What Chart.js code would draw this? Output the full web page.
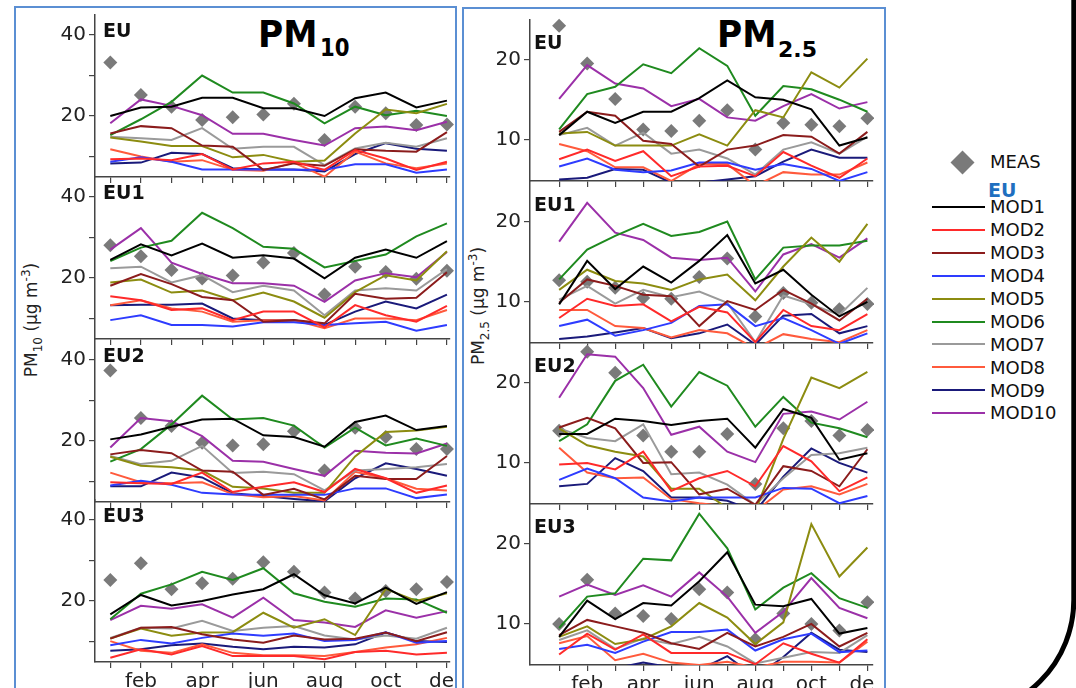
<!DOCTYPE html>
<html><head><meta charset="utf-8">
<script src="https://cdn.jsdelivr.net/npm/chart.js@4.4.1/dist/chart.umd.min.js"></script>
<style>
html,body{margin:0;padding:0;background:#fff;}
body{width:1076px;height:688px;overflow:hidden;position:relative;font-family:'DejaVu Sans',sans-serif;}
.box{position:absolute;border:2px solid #5b8fd3;border-bottom:none;}
.ttl{position:absolute;font-weight:bold;line-height:1;white-space:nowrap;color:#000;transform-origin:left top;}
.ytitle{position:absolute;font-size:17px;line-height:1;white-space:nowrap;color:#222;transform:translate(-50%,-50%) rotate(-90deg);}
.ytitle sub,.ytitle sup{font-size:12px;}
.leg{position:absolute;font-size:18px;line-height:1;white-space:nowrap;color:#111;}
.legline{position:absolute;height:2px;width:53px;}
</style></head><body>
<div class="box" style="left:14px;top:6px;width:439px;height:700px;"></div>
<div class="box" style="left:462px;top:7px;width:420px;height:700px;"></div>
<svg style="position:absolute;left:0;top:0" width="1076" height="688"><path d="M1073.8,-5 L1073.8,600 A115,115 0 0 1 958.8,715" stroke="#000" stroke-width="5" fill="none"/></svg>

<div class="ttl" style="left:258px;top:15.7px;font-size:37px;transform:scaleX(0.93);">PM</div>
<div class="ttl" style="left:320px;top:34.5px;font-size:25px;transform:scaleX(0.85);">10</div>
<div class="ttl" style="left:717px;top:15.7px;font-size:37px;transform:scaleX(0.93);">PM</div>
<div class="ttl" style="left:778px;top:39.4px;font-size:22px;">2.5</div>

<div class="ytitle" style="left:32px;top:320px;">PM<sub>10</sub> (µg m<sup>-3</sup>)</div>
<div class="ytitle" style="left:479px;top:306px;">PM<sub>2.5</sub> (µg m<sup>-3</sup>)</div>

<script>
const MONTHS = ['jan','feb','mar','apr','may','jun','jul','aug','sep','oct','nov','dec'];
const MODELS = ['MOD1','MOD2','MOD3','MOD4','MOD5','MOD6','MOD7','MOD8','MOD9','MOD10'];
const MOD_COLORS = ['#000000','#ff2a2a','#8b1c1c','#2e3cff','#8c8c10','#1f8a1f','#9a9a9a','#ff5a3c','#1a1a7a','#9b30a8'];
const MEAS_COLOR = '#7a7a7a';

// ---- PM10 ----
const PM10_EU_MEAS = [33.2,25.2,22.3,19.0,19.7,20.4,23.0,14.1,22.3,20.7,17.8,17.9];
const PM10_EU_MODS = [
 [20.0,22.1,22.3,24.5,24.5,21.9,21.9,20.0,24.4,25.8,22.1,23.8],
 [9.3,9.5,9.1,10.6,6.8,8.3,8.7,6.7,11.6,9.5,6.7,8.7],
 [15.7,17.5,17.0,12.7,12.4,6.7,8.3,7.7,11.8,11.4,11.2,16.0],
 [8.7,9.8,8.7,6.8,6.8,6.8,6.7,6.7,8.1,8.1,6.0,6.8],
 [14.7,13.7,12.6,12.6,9.8,10.4,8.7,9.0,15.7,21.6,20.7,23.0],
 [15.3,19.2,23.5,30.0,25.8,25.8,23.1,18.2,22.3,20.2,21.3,20.0],
 [14.9,14.5,14.1,17.0,11.9,12.4,12.4,7.9,12.0,13.4,12.4,14.5],
 [11.8,10.0,8.7,9.1,6.7,6.5,8.5,5.0,11.2,8.3,7.1,8.3],
 [8.3,8.5,10.9,10.6,7.1,6.8,6.8,6.3,10.6,13.3,11.9,11.4],
 [18.2,24.1,22.5,20.2,15.6,15.6,14.1,12.7,17.0,17.4,16.5,18.6]
];
const PM10_EU1_MEAS = [28.1,25.4,22.0,19.9,20.6,23.8,26.2,15.9,22.8,21.5,19.8,21.8];
const PM10_EU1_MODS = [
 [24.5,28.3,25.6,28.5,25.0,25.6,24.8,19.9,25.0,27.0,25.0,29.1],
 [15.5,14.5,12.1,12.5,9.6,11.7,11.7,7.8,13.3,10.8,9.2,13.1],
 [18.1,21.0,18.5,15.3,14.5,9.2,9.6,8.8,16.1,14.9,15.1,21.4],
 [9.6,10.8,8.4,8.4,8.0,9.1,9.1,8.4,8.8,9.2,7.0,8.4],
 [18.9,19.6,16.4,16.9,14.5,16.4,14.2,10.2,16.5,20.7,19.4,26.6],
 [24.2,27.5,29.2,36.1,32.3,27.7,27.2,22.6,24.2,25.8,30.3,33.5],
 [22.4,22.8,18.9,20.7,16.5,18.1,16.9,10.8,16.9,17.5,16.9,22.2],
 [13.3,14.5,12.5,11.7,9.2,9.6,9.6,7.6,10.0,10.0,9.6,12.1],
 [13.3,13.4,13.4,13.7,10.0,9.6,9.6,8.4,11.7,14.2,12.5,15.9],
 [27.0,32.3,23.8,21.0,18.7,18.7,18.1,14.1,19.4,21.2,20.2,26.4]
];
const PM10_EU2_MEAS = [37.4,25.7,23.7,19.6,18.9,19.2,22.4,12.7,23.3,21.0,18.0,18.0];
const PM10_EU2_MODS = [
 [20.4,21.6,23.5,25.3,25.5,21.4,21.0,18.6,24.7,26.3,22.7,23.7],
 [9.8,9.6,9.4,12.2,7.4,8.7,9.8,7.4,13.1,10.8,7.2,9.0],
 [16.7,17.8,17.0,12.7,12.4,6.7,8.2,5.6,11.4,10.6,10.6,16.3],
 [9.0,10.2,9.2,7.2,6.8,6.7,6.7,6.7,8.3,8.3,5.9,6.8],
 [16.1,13.9,13.5,12.7,8.7,8.3,7.2,7.2,16.2,22.2,22.6,23.5],
 [14.9,18.0,24.1,31.2,25.3,25.7,23.8,18.4,23.3,18.9,20.6,18.8],
 [16.3,14.3,15.1,18.8,12.1,12.4,11.8,7.8,12.7,13.1,13.5,14.3],
 [12.2,9.8,9.6,9.8,6.9,6.1,6.4,5.3,12.4,10.8,8.2,7.8],
 [8.8,8.8,12.2,11.0,7.1,6.4,5.7,5.1,10.8,14.5,13.1,11.4],
 [18.4,25.7,24.9,21.2,15.1,14.9,13.1,11.4,17.6,17.1,16.9,19.4]
];
const PM10_EU3_MEAS = [25.2,29.3,22.9,24.4,25.5,29.6,27.2,22.1,20.6,22.5,22.9,24.7];
const PM10_EU3_MODS = [
 [16.7,21.5,18.9,20.0,21.6,22.9,26.6,21.4,19.4,23.3,19.3,22.2],
 [6.0,8.1,6.8,8.9,6.4,6.4,6.4,5.6,7.4,7.7,6.8,7.2],
 [10.7,13.4,13.6,11.8,10.5,9.7,11.5,10.5,10.7,12.2,10.1,12.3],
 [9.1,10.4,9.5,10.9,12.0,11.4,12.0,10.1,10.4,12.3,9.7,10.1],
 [10.7,13.2,11.4,12.2,12.3,17.1,13.4,15.5,11.6,23.0,20.0,21.9],
 [15.5,21.8,24.1,27.2,25.2,28.1,21.9,19.8,18.6,20.6,20.4,17.1],
 [10.9,13.4,13.2,15.1,12.6,13.4,13.8,11.5,10.5,11.5,10.7,13.4],
 [10.1,7.7,7.2,9.3,7.2,6.6,6.6,6.4,7.4,8.5,9.3,10.9],
 [7.7,8.1,9.1,9.5,8.7,8.1,8.7,8.5,9.3,12.2,10.1,9.9],
 [15.3,18.8,18.1,19.2,15.9,20.8,15.3,14.7,13.6,17.7,15.9,17.5]
];

// ---- PM2.5 ----
const PM25_EU_MEAS = [24.2,19.5,15.1,11.3,11.1,12.4,13.7,8.8,12.1,11.9,11.7,12.7];
const PM25_EU_MODS = [
 [10.6,13.5,12.1,13.5,13.5,15.2,17.4,15.3,15.0,13.8,9.3,10.3],
 [7.6,8.8,7.4,8.6,5.5,6.7,6.8,5.5,8.5,6.8,5.3,7.7],
 [11.0,13.5,13.0,9.9,9.5,6.7,8.8,9.3,10.6,10.4,8.3,11.0],
 [6.7,7.7,6.3,6.0,6.2,7.2,7.2,6.3,7.0,6.4,4.9,6.0],
 [10.8,11.0,9.3,9.3,9.3,10.7,9.3,13.7,12.8,18.4,16.5,20.1],
 [11.3,15.7,16.6,19.4,18.3,21.4,19.2,13.0,16.7,16.3,15.0,13.5],
 [10.6,11.5,9.3,10.9,8.3,8.8,7.7,5.7,8.8,9.7,8.3,10.4],
 [9.5,8.6,6.6,6.6,4.9,7.0,7.0,4.3,6.0,5.7,5.7,7.2],
 [5.1,5.3,6.4,6.3,4.7,4.7,5.1,5.5,7.3,8.8,7.8,7.8],
 [15.1,19.3,17.0,16.4,14.2,15.1,12.8,12.4,14.2,15.7,13.9,14.7]
];
const PM25_EU1_MEAS = [12.7,12.5,11.75,10.5,10.4,13.1,15.4,8.2,11.1,9.9,9.1,9.75];
const PM25_EU1_MODS = [
 [9.7,15.1,11.6,14.4,12.4,15.1,18.3,12.3,14.0,10.9,8.2,10.0],
 [8.0,10.4,9.5,9.7,7.6,9.4,8.7,5.0,9.0,7.0,6.5,8.5],
 [9.9,12.8,12.0,10.9,10.7,7.0,10.1,9.0,11.5,9.8,7.7,10.4],
 [7.0,7.8,5.8,6.5,7.4,9.5,9.7,7.0,8.0,6.5,4.8,6.1],
 [11.5,14.0,12.6,12.3,11.5,12.8,13.4,10.2,14.4,18.0,15.0,19.7],
 [12.8,16.5,18.2,19.7,18.2,18.7,20.0,12.8,16.75,17.0,17.0,17.6],
 [10.3,12.0,9.8,11.5,10.6,11.3,9.9,5.0,10.8,9.7,8.4,11.75],
 [9.0,9.0,7.0,6.75,5.6,6.5,6.1,4.2,6.0,5.4,5.0,6.5],
 [5.4,5.7,6.2,6.75,5.5,6.1,7.2,4.7,8.3,8.5,6.1,7.0],
 [17.5,22.3,18.6,17.7,15.5,15.2,15.5,11.3,15.9,17.2,15.5,17.9]
];
const PM25_EU2_MEAS = [14.0,23.8,21.2,13.4,11.4,11.4,13.6,7.4,14.3,15.2,13.4,14.1];
const PM25_EU2_MODS = [
 [13.6,13.6,15.5,15.2,14.7,15.2,15.5,11.9,16.7,15.6,10.4,11.2],
 [9.8,10.0,9.2,11.4,6.5,8.1,9.0,7.1,12.1,10.2,6.5,8.2],
 [14.4,15.6,14.3,10.0,10.1,6.1,6.8,4.8,9.6,9.0,7.1,11.7],
 [7.9,9.3,8.1,5.7,5.2,5.7,5.7,5.7,6.9,6.8,5.0,5.9],
 [14.3,12.2,11.4,10.8,6.8,6.8,4.4,4.0,13.0,20.6,19.3,21.3],
 [12.7,14.8,20.2,22.2,17.0,21.3,19.6,14.5,18.2,15.0,14.3,13.2],
 [14.3,13.1,12.7,14.8,8.6,8.8,7.3,4.8,8.1,11.0,11.2,11.9],
 [11.9,8.8,8.1,8.2,5.5,5.0,4.6,4.0,6.7,7.1,6.1,7.4],
 [7.1,7.4,10.6,9.0,5.7,5.7,5.3,4.0,8.3,11.8,10.0,8.8],
 [18.1,23.5,23.2,19.3,13.5,14.5,11.4,10.1,16.1,16.4,15.4,17.6]
];
const PM25_EU3_MEAS = [10.0,15.5,11.3,11.0,10.6,14.3,13.9,8.1,11.3,10.0,9.2,12.7];
const PM25_EU3_MODS = [
 [8.4,12.9,10.6,12.6,12.3,15.3,18.9,12.4,12.2,13.1,8.8,9.5],
 [6.2,8.8,6.8,8.7,6.4,6.4,6.4,5.0,7.6,6.3,5.2,8.1],
 [8.6,10.5,9.7,8.9,7.6,6.9,8.9,7.2,8.4,10.0,7.2,8.9],
 [6.9,7.4,6.4,7.8,9.0,9.0,9.3,6.7,8.1,8.8,6.5,6.7],
 [8.4,9.7,7.5,8.1,9.7,12.6,10.8,7.5,10.2,22.4,15.9,19.5],
 [9.5,13.4,13.8,18.1,17.9,23.7,19.4,11.8,14.5,16.3,13.2,12.0],
 [8.0,9.2,6.9,8.2,7.5,8.4,7.2,5.1,5.8,6.5,6.4,8.6],
 [7.6,8.5,5.5,6.3,5.2,4.9,5.3,4.6,5.3,5.3,5.2,7.8],
 [3.8,4.6,4.5,5.2,4.6,4.3,6.0,3.4,5.9,8.9,6.8,6.5],
 [13.4,14.9,13.6,14.8,13.4,16.4,13.4,8.9,11.5,15.7,12.0,10.7]
];

const PM10_Y_TICKS = [10,20,30,40];
const PM10_Y_LABELS = [20,40];
const PM25_Y_TICKS = [10,20];
const PM25_Y_LABELS = [10,20];

Chart.defaults.font.family = "'DejaVu Sans', sans-serif";

const panelLabelPlugin = {
  id: 'panelLabel',
  afterDatasetsDraw(chart, args, opts) {
    const {ctx, chartArea} = chart;
    ctx.save();
    ctx.font = "bold 19px 'DejaVu Sans', sans-serif";
    ctx.fillStyle = '#111';
    ctx.textBaseline = 'alphabetic';
    ctx.textAlign = 'left';
    ctx.fillText(opts.text, chartArea.left + opts.dx, chartArea.top + opts.dy);
    ctx.restore();
  }
};

function zeroPad(s) { s.paddingTop = 0; s.paddingBottom = 0; s.paddingLeft = 0; s.paddingRight = 0; }

function buildPanel(cfg) {
  const xH = cfg.showX ? 30 : 8;
  const W = 45 + cfg.plotW + cfg.padR;
  const H = 4 + cfg.plotH + xH;
  const cv = document.createElement('canvas');
  cv.style.cssText = 'position:absolute;left:' + (cfg.axisX - 45) + 'px;top:' + (cfg.top - 4) + 'px;width:' + W + 'px;height:' + H + 'px;';
  cv.width = W; cv.height = H;
  document.body.appendChild(cv);
  const datasets = cfg.mods.map((vals, i) => ({
    label: MODELS[i],
    data: vals.map((v, k) => ({x: k, y: v})),
    borderColor: MOD_COLORS[i], backgroundColor: MOD_COLORS[i],
    borderWidth: 2, pointRadius: 0, tension: 0, fill: false, order: 0
  }));
  datasets.push({
    label: 'MEAS',
    data: cfg.meas.map((v, k) => ({x: k, y: v})),
    showLine: false, pointStyle: 'rectRot', pointRadius: 7, pointBorderWidth: 0,
    pointBackgroundColor: MEAS_COLOR, borderColor: MEAS_COLOR, backgroundColor: MEAS_COLOR,
    order: 1, clip: false
  });
  const axisCol = '#444';
  new Chart(cv, {
    type: 'line',
    data: {datasets},
    plugins: [panelLabelPlugin],
    options: {
      responsive: false, animation: false, events: [],
      layout: {autoPadding: false, padding: {top: 4, left: 0, right: cfg.padR, bottom: 0}},
      plugins: {
        legend: {display: false}, tooltip: {enabled: false},
        panelLabel: {text: cfg.name, dx: cfg.labelDx, dy: cfg.labelDy}
      },
      scales: {
        x: {
          type: 'linear', position: 'bottom', min: cfg.xmin, max: cfg.xmax,
          afterBuildTicks: s => { s.ticks = MONTHS.map((m, i) => ({value: i})); },
          afterFit: s => { s.height = xH; zeroPad(s); },
          ticks: {
            display: cfg.showX, autoSkip: false, maxRotation: 0, padding: 2,
            color: '#222', font: {size: 20},
            callback: v => (v % 2 === 1 ? MONTHS[v] : '')
          },
          grid: {drawOnChartArea: false, drawTicks: true, tickLength: 6, color: axisCol, lineWidth: 1.2},
          border: {display: true, color: axisCol, width: 1.5}
        },
        y: {
          min: cfg.ymin, max: cfg.ymax,
          afterBuildTicks: s => { s.ticks = cfg.yticks.map(v => ({value: v})); },
          afterFit: s => { s.width = 45; zeroPad(s); },
          ticks: {
            autoSkip: false, padding: 3, color: '#222', font: {size: 20},
            callback: v => (cfg.ylabels.includes(v) ? String(v) : '')
          },
          grid: {drawOnChartArea: false, drawTicks: true, tickLength: 6, color: axisCol, lineWidth: 1.2},
          border: {display: true, color: axisCol, width: 1.5}
        }
      }
    }
  });
}

const LEFT_TOPS = [15, 177, 340, 500];
const RIGHT_TOPS = [20, 182, 343, 504];
const PM10_PANELS = [
  ['EU', PM10_EU_MEAS, PM10_EU_MODS],
  ['EU1', PM10_EU1_MEAS, PM10_EU1_MODS],
  ['EU2', PM10_EU2_MEAS, PM10_EU2_MODS],
  ['EU3', PM10_EU3_MEAS, PM10_EU3_MODS]
];
const PM25_PANELS = [
  ['EU', PM25_EU_MEAS, PM25_EU_MODS],
  ['EU1', PM25_EU1_MEAS, PM25_EU1_MODS],
  ['EU2', PM25_EU2_MEAS, PM25_EU2_MODS],
  ['EU3', PM25_EU3_MEAS, PM25_EU3_MODS]
];

PM10_PANELS.forEach((p, r) => buildPanel({
  name: p[0], meas: p[1], mods: p[2],
  axisX: 95, plotW: 355, padR: 4, top: LEFT_TOPS[r], plotH: 162, showX: r === 3,
  xmin: -0.5, xmax: 11.1, ymin: 4.94, ymax: 44.94,
  yticks: PM10_Y_TICKS, ylabels: PM10_Y_LABELS, labelDx: 8, labelDy: 22
}));
PM25_PANELS.forEach((p, r) => buildPanel({
  name: p[0], meas: p[1], mods: p[2],
  axisX: 530, plotW: 343, padR: 1, top: RIGHT_TOPS[r], plotH: 161, showX: r === 3,
  xmin: -1.04, xmax: 11.2, ymin: 4.9, ymax: 24.9,
  yticks: PM25_Y_TICKS, ylabels: PM25_Y_LABELS, labelDx: 4, labelDy: 29
}));

// legend
(function buildLegend() {
  const d = document.createElement('div');
  d.style.cssText = 'position:absolute;left:954px;top:154px;width:17px;height:17px;transform:rotate(45deg);background:' + MEAS_COLOR + ';';
  document.body.appendChild(d);
  const t = document.createElement('div');
  t.className = 'leg'; t.style.left = '990px'; t.style.top = (162 - 8.7) + 'px';
  t.textContent = 'MEAS';
  document.body.appendChild(t);
  const eu = document.createElement('div');
  eu.className = 'leg'; eu.style.cssText += 'left:988px;top:181px;font-size:19px;font-weight:bold;color:#1f6fc0;';
  eu.textContent = 'EU';
  document.body.appendChild(eu);
  MODELS.forEach((m, i) => {
    const y = 207 + i * 22.9;
    const ln = document.createElement('div');
    ln.className = 'legline';
    ln.style.cssText += 'left:932px;top:' + (y - 1) + 'px;background:' + MOD_COLORS[i] + ';';
    document.body.appendChild(ln);
    const tx = document.createElement('div');
    tx.className = 'leg'; tx.style.left = '990px'; tx.style.top = (y - 8.7) + 'px';
    tx.textContent = m;
    document.body.appendChild(tx);
  });
})();
</script>
</body></html>
